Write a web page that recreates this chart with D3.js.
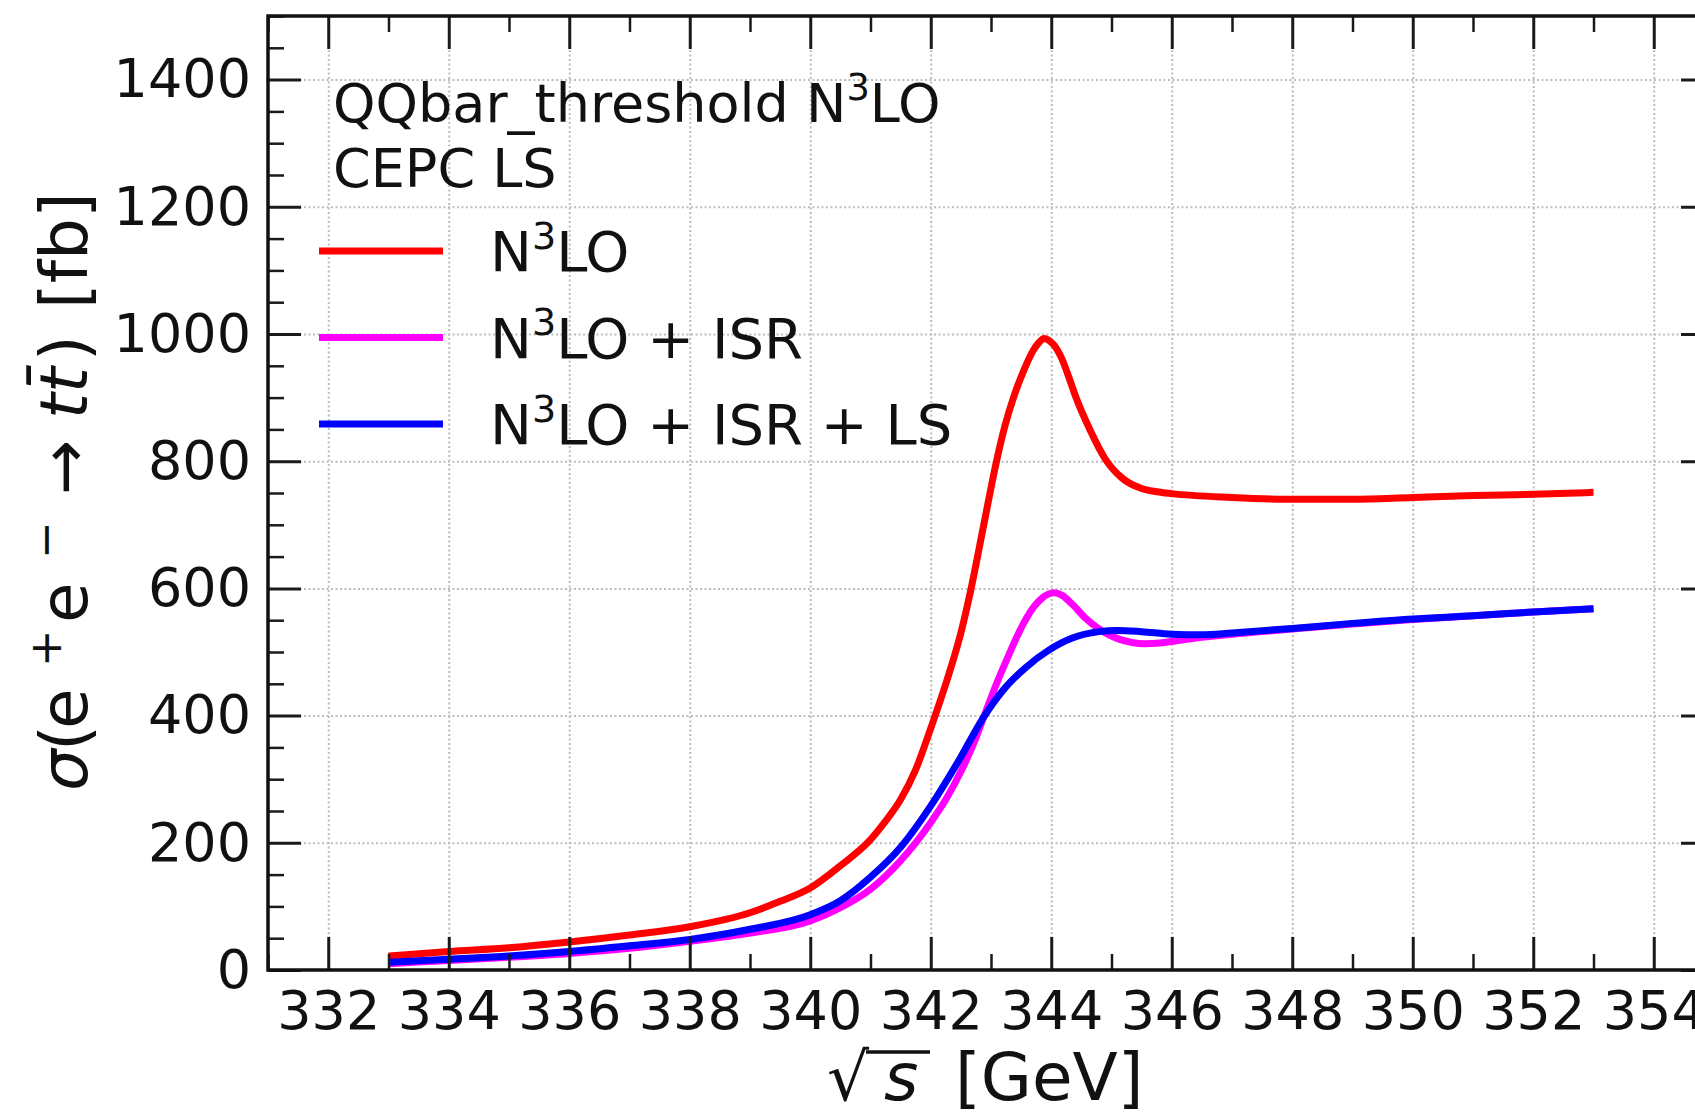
<!DOCTYPE html>
<html>
<head>
<meta charset="utf-8">
<script src="https://cdn.jsdelivr.net/npm/d3@7"></script>
<style>
body { margin: 0; background: #fff; }
svg { display: block; font-family: "DejaVu Sans", sans-serif; }
</style>
</head>
<body>
<svg id="chart" width="1695" height="1115"></svg>
<script>

// values (sqrt(s) in GeV, sigma in fb)
let energy_n3lo = [333, 334, 335, 336, 337, 338, 339, 339.5, 340, 340.5, 341, 341.25, 341.5, 341.75, 342, 342.25, 342.5, 342.67, 342.88, 343.08, 343.23, 343.38, 343.55, 343.7, 343.8, 343.88, 343.96, 344.05, 344.18, 344.3, 344.4, 344.65, 344.9, 345.17, 345.5, 345.75, 346, 347, 348, 349, 350, 351, 352, 353]
let xsec_n3lo = [22, 29, 35, 44, 55, 68, 90, 108, 129, 164, 205, 234, 268, 315, 380, 450, 530, 600, 700, 795, 855, 902, 944, 974, 987, 993, 990, 982, 960, 930, 903, 848, 803, 774, 757, 752, 749, 743, 740, 740, 743, 746, 748, 751]

let energy_isr = [333, 334, 335, 336, 337, 338, 339, 340, 340.5, 341, 341.5, 342, 342.25, 342.5, 342.75, 342.9, 343.1, 343.27, 343.45, 343.6, 343.72, 343.85, 343.95, 344.05, 344.18, 344.35, 344.57, 344.75, 344.9, 345.1, 345.34, 345.55, 345.8, 346.1, 346.5, 347, 348, 349, 350, 351, 352, 353]
let xsec_isr = [10, 15, 20, 26, 34, 45, 58, 77, 98, 127, 172, 232, 268, 312, 365, 403, 452, 490, 528, 555, 572, 585, 591, 593, 589, 575, 553, 539, 530, 521, 515, 513, 514, 518, 523, 528, 536, 544, 551, 557, 563, 568]

let energy_isr_ls = [333, 334, 335, 336, 337, 338, 339, 340, 340.5, 341, 341.5, 342, 342.5, 342.86, 343.2, 343.58, 343.96, 344.35, 344.79, 345.1, 345.5, 346, 346.5, 347, 348, 349, 350, 351, 352, 353]
let xsec_isr_ls = [12, 17, 22, 29, 38, 48, 64, 87, 109, 146, 193, 258, 335, 395, 440, 476, 503, 522, 532, 534, 532, 528, 527, 530, 537, 545, 552, 557, 563, 568]

let x_major = [332, 334, 336, 338, 340, 342, 344, 346, 348, 350, 352, 354]
let y_major = [0, 200, 400, 600, 800, 1000, 1200, 1400]

let series = [
    { name: [{ t: "N" }, { t: "3", sup: true }, { t: "LO" }], color: "#ff0000", x: energy_n3lo, y: xsec_n3lo },
    { name: [{ t: "N" }, { t: "3", sup: true }, { t: "LO + ISR" }], color: "#ff00ff", x: energy_isr, y: xsec_isr },
    { name: [{ t: "N" }, { t: "3", sup: true }, { t: "LO + ISR + LS" }], color: "#0000ff", x: energy_isr_ls, y: xsec_isr_ls }
]

let plot_left = 268, plot_top = 16, plot_right = 1714, plot_bottom = 970

let svg = d3.select('#chart')

let x = d3.scaleLinear().domain([331, 355]).range([plot_left, plot_right])
let y = d3.scaleLinear().domain([0, 1500]).range([plot_bottom, plot_top])

// writes a run of text pieces, some raised, some italic, some placed at a given offset
function richText(sel, parts, fs) {
    let raised = false
    for (let p of parts) {
        let ts = sel.append('tspan').text(p.t)
        if (p.at !== undefined) ts.attr('x', p.at)
        if (p.sup) {
            ts.attr('font-size', fs * 0.68).attr('dy', raised ? 0 : -fs * 0.4)
            raised = true
        } else {
            ts.attr('font-size', fs)
            if (raised) ts.attr('dy', fs * 0.4)
            raised = false
        }
        if (p.it) ts.attr('font-style', 'italic')
    }
}

// grid
function styleGrid(g) {
    g.select('.domain').remove()
    g.selectAll('line').attr('stroke', '#bdbdbd').attr('stroke-width', 2).attr('stroke-dasharray', '2,2.5')
}
svg.append('g').attr('transform', `translate(0,${plot_bottom})`)
    .call(d3.axisBottom(x).tickValues(x_major).tickSize(-(plot_bottom - plot_top)).tickFormat(''))
    .call(styleGrid)
svg.append('g').attr('transform', `translate(${plot_left},0)`)
    .call(d3.axisLeft(y).tickValues(y_major.slice(1)).tickSize(-(plot_right - plot_left)).tickFormat(''))
    .call(styleGrid)

// curves
let line = d3.line().x((d) => x(d[0])).y((d) => y(d[1])).curve(d3.curveMonotoneX)
for (let s of series) {
    svg.append('path')
        .datum(s.x.map((v, i) => [v, s.y[i]]))
        .attr('d', line)
        .attr('fill', 'none')
        .attr('stroke', s.color)
        .attr('stroke-width', 7)
        .attr('stroke-linejoin', 'round')
}

// ticks on all four sides, pointing in
let x_minor = d3.range(331, 356).filter((v) => v % 2 == 1)
let y_minor = d3.range(0, 1501, 50).filter((v) => v % 200 != 0)

function styleTicks(g, w) {
    g.select('.domain').remove()
    g.selectAll('line').attr('stroke', '#1a1a1a').attr('stroke-width', w)
    g.selectAll('text').attr('font-size', 54).attr('font-family', '"DejaVu Sans", sans-serif').attr('fill', '#111')
}

svg.append('g').attr('transform', `translate(0,${plot_bottom})`)
    .call(d3.axisBottom(x).tickValues(x_major).tickSizeInner(-33).tickSizeOuter(0).tickPadding(21).tickFormat(d3.format('d')))
    .call(styleTicks, 3)
svg.append('g').attr('transform', `translate(0,${plot_bottom})`)
    .call(d3.axisBottom(x).tickValues(x_minor).tickSizeInner(-16).tickSizeOuter(0).tickFormat(''))
    .call(styleTicks, 2.5)
svg.append('g').attr('transform', `translate(0,${plot_top})`)
    .call(d3.axisTop(x).tickValues(x_major).tickSizeInner(-33).tickSizeOuter(0).tickFormat(''))
    .call(styleTicks, 3)
svg.append('g').attr('transform', `translate(0,${plot_top})`)
    .call(d3.axisTop(x).tickValues(x_minor).tickSizeInner(-16).tickSizeOuter(0).tickFormat(''))
    .call(styleTicks, 2.5)

svg.append('g').attr('transform', `translate(${plot_left},0)`)
    .call(d3.axisLeft(y).tickValues(y_major).tickSizeInner(-33).tickSizeOuter(0).tickPadding(17).tickFormat(d3.format('d')))
    .call(styleTicks, 3)
svg.append('g').attr('transform', `translate(${plot_left},0)`)
    .call(d3.axisLeft(y).tickValues(y_minor).tickSizeInner(-16).tickSizeOuter(0).tickFormat(''))
    .call(styleTicks, 2.5)
svg.append('g').attr('transform', `translate(${plot_right},0)`)
    .call(d3.axisRight(y).tickValues(y_major).tickSizeInner(-33).tickSizeOuter(0).tickFormat(''))
    .call(styleTicks, 3)
svg.append('g').attr('transform', `translate(${plot_right},0)`)
    .call(d3.axisRight(y).tickValues(y_minor).tickSizeInner(-16).tickSizeOuter(0).tickFormat(''))
    .call(styleTicks, 2.5)

// frame
svg.append('rect')
    .attr('x', plot_left).attr('y', plot_top)
    .attr('width', plot_right - plot_left).attr('height', plot_bottom - plot_top)
    .attr('fill', 'none').attr('stroke', '#111').attr('stroke-width', 3.5)

// annotation
let note = svg.append('text').attr('x', 333).attr('y', 122).attr('fill', '#111')
richText(note, [{ t: "QQbar_threshold N" }, { t: "3", sup: true }, { t: "LO" }], 54)
svg.append('text').attr('x', 333).attr('y', 187).attr('fill', '#111').attr('font-size', 54).text('CEPC LS')

// legend
series.forEach((s, i) => {
    let ly = 251 + i * 86.5
    svg.append('line')
        .attr('x1', 319).attr('x2', 443).attr('y1', ly).attr('y2', ly)
        .attr('stroke', s.color).attr('stroke-width', 7)
    let t = svg.append('text').attr('x', 490).attr('y', ly + 20).attr('fill', '#111')
    richText(t, s.name, 56)
})

// x title: radical, italic s under a bar, unit
let xl = svg.append('text').attr('y', 1100).attr('fill', '#111')
richText(xl, [{ t: "√", at: 827 }, { t: "s", it: true, at: 884 }, { t: "[GeV]", at: 955 }], 66)
svg.append('line')
    .attr('x1', 866).attr('x2', 930).attr('y1', 1052).attr('y2', 1052)
    .attr('stroke', '#111').attr('stroke-width', 3.5)

// y title, pieces spaced like the math layout
let yl = svg.append('text').attr('transform', 'translate(87,791) rotate(-90)').attr('fill', '#111')
richText(yl, [
    { t: "σ", it: true, at: 0 }, { t: "(", at: 40 }, { t: "e", at: 62 }, { t: "+", sup: true, at: 124 },
    { t: "e", at: 168 }, { t: "−", sup: true, at: 232 }, { t: "→", at: 296 }, { t: "tt̄", it: true, at: 372 },
    { t: ")", at: 430 }, { t: "[fb]", at: 482 }
], 66)

</script>
</body>
</html>
